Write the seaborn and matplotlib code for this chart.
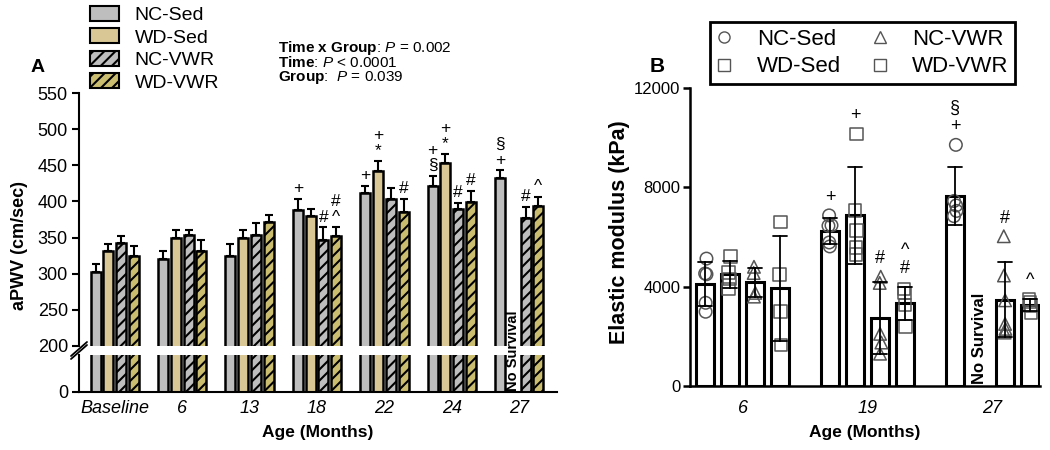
import matplotlib
matplotlib.use("Agg")
import matplotlib.pyplot as plt
import numpy as np
import pandas as pd
import seaborn as sns
from matplotlib.lines import Line2D
from matplotlib.patches import Patch

sns.set_theme(style="ticks")
plt.rcParams["font.family"] = ["Liberation Sans", "DejaVu Sans"]
plt.rcParams["mathtext.fontset"] = "custom"
plt.rcParams["mathtext.rm"] = "Liberation Sans"
plt.rcParams["mathtext.it"] = "Liberation Sans:italic"
plt.rcParams["mathtext.bf"] = "Liberation Sans:bold"
plt.rcParams["hatch.linewidth"] = 1.5
plt.rcParams["hatch.color"] = "black"
for key in ("text.color", "axes.labelcolor", "xtick.color", "ytick.color", "axes.edgecolor"):
    plt.rcParams[key] = "black"

# ── data ─────────────────────────────────────────────────────────────────────
GROUPS = ["NC-Sed", "WD-Sed", "NC-VWR", "WD-VWR"]

# panel A: aPWV mean and SEM per age
AGES_A = ["Baseline", "6", "13", "18", "22", "24", "27"]
PWV_NC_SED = [303, 320, 325, 388, 412, 421, 433]
PWV_WD_SED = [332, 349, 349, 380, 442, 453, np.nan]
PWV_NC_VWR = [342, 353, 353, 346, 404, 390, 377]
PWV_WD_VWR = [325, 332, 371, 352, 386, 399, 394]
SEM_NC_SED = [11, 12, 16, 16, 10, 14, 10]
SEM_WD_SED = [9, 12, 11, 10, 14, 13, np.nan]
SEM_NC_VWR = [10, 8, 17, 18, 14, 8, 15]
SEM_WD_VWR = [13, 14, 10, 12, 17, 16, 12]

# significance symbols, listed bottom to top
MARKS_A = [
    ("18", "NC-Sed", "+"), ("18", "NC-VWR", "#"), ("18", "WD-VWR", "^#"),
    ("22", "NC-Sed", "+"), ("22", "WD-Sed", "*+"), ("22", "WD-VWR", "#"),
    ("24", "NC-Sed", "§+"), ("24", "WD-Sed", "*+"), ("24", "NC-VWR", "#"),
    ("24", "WD-VWR", "#"), ("27", "NC-Sed", "+§"), ("27", "NC-VWR", "#"),
    ("27", "WD-VWR", "^"),
]

# panel B: elastic modulus, individual animals per age
AGES_B = ["6", "19", "27"]
EM_NC_SED = [[5130, 4530, 4500, 3350, 2990], [6870, 6470, 6450, 5780, 5620], [9710, 7450, 7270, 7050, 6840]]
EM_WD_SED = [[5210, 4570, 4300, 3900], [10140, 7070, 6260, 5580, 5290], []]
EM_NC_VWR = [[4800, 4550, 3750, 3600], [4400, 4150, 2100, 1750, 1300], [6030, 4450, 3450, 2500, 2300, 2150]]
EM_WD_VWR = [[6600, 4500, 3000, 1650], [3900, 3750, 3270, 2400], [3480, 3380, 3250, 2950]]

MARKS_B = [
    ("19", "NC-Sed", "+"), ("19", "WD-Sed", "+"), ("19", "NC-VWR", "#"),
    ("19", "WD-VWR", "#^"), ("27", "NC-Sed", "+§"), ("27", "NC-VWR", "#"),
    ("27", "WD-VWR", "^"),
]

FILL_A = {"NC-Sed": "#BEBEBE", "WD-Sed": "#D9C896", "NC-VWR": "#BEBEBE", "WD-VWR": "#CBBD70"}
HATCH_A = {"NC-Sed": "", "WD-Sed": "", "NC-VWR": "///", "WD-VWR": "///"}
MARKER_B = {"NC-Sed": "o", "WD-Sed": "s", "NC-VWR": "^", "WD-VWR": "s"}

rows = []
for g, means, sems in zip(GROUPS, [PWV_NC_SED, PWV_WD_SED, PWV_NC_VWR, PWV_WD_VWR],
                          [SEM_NC_SED, SEM_WD_SED, SEM_NC_VWR, SEM_WD_VWR]):
    for age, m, s in zip(AGES_A, means, sems):
        if not np.isnan(m):
            rows.append({"age": age, "group": g, "pwv": m, "sem": s})
df_a = pd.DataFrame(rows)

rows = []
for g, per_age in zip(GROUPS, [EM_NC_SED, EM_WD_SED, EM_NC_VWR, EM_WD_VWR]):
    for age, vals in zip(AGES_B, per_age):
        for v in vals:
            rows.append({"age": age, "group": g, "kpa": v})
df_b = pd.DataFrame(rows)

# ── figure ───────────────────────────────────────────────────────────────────
fig = plt.figure(figsize=(10.5, 4.5), dpi=100)
W, H = 1050, 450
ax_top = fig.add_axes([79 / W, 1 - 346 / H, 478 / W, 253 / H])
ax_bot = fig.add_axes([79 / W, 1 - 392 / H, 478 / W, 37 / H])
ax_b = fig.add_axes([690 / W, 1 - 386 / H, 350 / W, 298 / H])

PITCH_A = 0.19
for ax in (ax_top, ax_bot):
    sns.barplot(data=df_a, x="age", y="pwv", hue="group", order=AGES_A, hue_order=GROUPS,
                palette=FILL_A, saturation=1, errorbar=None, width=0.76, gap=0.22,
                edgecolor="black", linewidth=1.8, legend=False, ax=ax)
    for cont, g in zip(ax.containers, GROUPS):
        for p in cont:
            p.set_hatch(HATCH_A[g])
    ax.set_xlim(-0.53, 6.56)
    ax.set_xlabel("")
    ax.set_ylabel("")
    for side in ("top", "right"):
        ax.spines[side].set_visible(False)
    ax.spines["left"].set_linewidth(1.5)
    ax.tick_params(axis="y", width=1.5, length=5, labelsize=13, pad=3)

ax_top.set_ylim(200, 550)
ax_top.set_yticks(range(200, 551, 50))
ax_top.spines["bottom"].set_visible(False)
ax_top.tick_params(axis="x", bottom=False, labelbottom=False)
ax_bot.set_ylim(0, 50)
ax_bot.set_yticks([0])
ax_bot.spines["bottom"].set_linewidth(1.5)
ax_bot.tick_params(axis="x", length=0, labelsize=13, pad=6)
for lbl in ax_bot.get_xticklabels():
    lbl.set_style("italic")

# error bars (upper only)
xs = df_a["age"].map(AGES_A.index) + (df_a["group"].map(GROUPS.index) - 1.5) * PITCH_A
ax_top.errorbar(xs, df_a["pwv"], yerr=[np.zeros(len(df_a)), df_a["sem"]], fmt="none",
                ecolor="black", elinewidth=1.5, capsize=3, capthick=1.5, zorder=5)

for age, g, syms in MARKS_A:
    r = df_a[(df_a["age"] == age) & (df_a["group"] == g)].iloc[0]
    x = AGES_A.index(age) + (GROUPS.index(g) - 1.5) * PITCH_A
    for k, s in enumerate(syms):
        ax_top.annotate(s, (x, r["pwv"] + r["sem"]), xytext=(0, 2 + 11 * k),
                        textcoords="offset points", ha="center", va="bottom",
                        fontsize=12.5, annotation_clip=False)

ax_bot.text(6 - 0.5 * PITCH_A, 2, "No Survival", rotation=90, ha="center", va="bottom",
            fontsize=10.5, fontweight="bold", clip_on=False, zorder=6)

# axis break marks
kw = dict(color="black", lw=1.3, clip_on=False)
dx = 8 / 478
ax_top.plot([-dx, dx], [-10 / 253, 4 / 253], transform=ax_top.transAxes, **kw)
ax_bot.plot([-dx, dx], [1 - 4 / 37, 1 + 10 / 37], transform=ax_bot.transAxes, **kw)

fig.text(20 / W, 1 - 245 / H, "aPWV (cm/sec)", rotation=90, ha="center", va="center",
         fontsize=13, fontweight="bold")
fig.text(318 / W, 1 - 433 / H, "Age (Months)", ha="center", va="center",
         fontsize=12.5, fontweight="bold")
fig.text(38 / W, 1 - 67 / H, "A", ha="center", va="center", fontsize=14, fontweight="bold")

handles_a = [Patch(facecolor=FILL_A[g], edgecolor="black", hatch=HATCH_A[g], linewidth=1.5)
             for g in GROUPS]
fig.legend(handles_a, GROUPS, loc="upper left", bbox_to_anchor=(86 / W, 1 - 2 / H),
           frameon=False, fontsize=14, handlelength=1.5, handleheight=0.8,
           handletextpad=0.8, labelspacing=0.22, borderaxespad=0, borderpad=0.2)

stats = [r"$\mathbf{Time\ x\ Group}$: $\mathit{P}$ = 0.002",
         r"$\mathbf{Time}$: $\mathit{P}$ < 0.0001",
         r"$\mathbf{Group}$:  $\mathit{P}$ = 0.039"]
for i, s in enumerate(stats):
    fig.text(278 / W, 1 - (48 + 14.5 * i) / H, s, ha="left", va="center", fontsize=11)

# ── panel B ──────────────────────────────────────────────────────────────────
PITCH_B = 0.2
sns.barplot(data=df_b, x="age", y="kpa", hue="group", order=AGES_B, hue_order=GROUPS,
            palette={g: "white" for g in GROUPS}, saturation=1, errorbar="sd",
            capsize=0.45, width=0.8, gap=0.27, edgecolor="black", linewidth=2.2,
            err_kws={"color": "black", "linewidth": 1.3}, legend=False, ax=ax_b)
np.random.seed(4)
for g in GROUPS:
    sns.stripplot(data=df_b[df_b["group"] == g], x="age", y="kpa", hue="group",
                  order=AGES_B, hue_order=GROUPS, palette={k: "white" for k in GROUPS},
                  dodge=True, jitter=0.05, marker=MARKER_B[g], size=9, legend=False, ax=ax_b)
for coll in ax_b.collections:
    coll.set_facecolor("none")
    coll.set_edgecolor("#555555")
    coll.set_linewidth(1.1)
    coll.set_zorder(4)
for line in ax_b.lines:
    line.set_zorder(5)

stats_b = df_b.groupby(["age", "group"])["kpa"].agg(["mean", "std", "max"])
for age, g, syms in MARKS_B:
    r = stats_b.loc[(age, g)]
    base = max(r["mean"] + r["std"], r["max"])
    x = AGES_B.index(age) + (GROUPS.index(g) - 1.5) * PITCH_B
    for k, s in enumerate(syms):
        ax_b.annotate(s, (x, base), xytext=(0, 7 + 13 * k), textcoords="offset points",
                      ha="center", va="bottom", fontsize=13, annotation_clip=False)

ax_b.text(2 - 0.5 * PITCH_B, 100, "No Survival", rotation=90, ha="center", va="bottom",
          fontsize=12, fontweight="bold", zorder=6)

ax_b.set_xlim(-0.42, 2.38)
ax_b.set_ylim(0, 12000)
ax_b.set_yticks([0, 4000, 8000, 12000])
ax_b.set_xlabel("Age (Months)", fontsize=12.5, fontweight="bold", labelpad=6)
ax_b.set_ylabel("")
for side in ("top", "right"):
    ax_b.spines[side].set_visible(False)
for side in ("left", "bottom"):
    ax_b.spines[side].set_linewidth(1.8)
ax_b.tick_params(axis="y", width=1.8, length=5, labelsize=12, pad=2)
ax_b.tick_params(axis="x", length=0, labelsize=13, pad=10)
for lbl in ax_b.get_xticklabels():
    lbl.set_style("italic")

fig.text(620 / W, 1 - 232 / H, "Elastic modulus (kPa)", rotation=90, ha="center",
         va="center", fontsize=15.5, fontweight="bold")
fig.text(657 / W, 1 - 67 / H, "B", ha="center", va="center", fontsize=15, fontweight="bold")

handles_b = [Line2D([], [], marker=MARKER_B[g], linestyle="none", markerfacecolor="none",
                    markeredgecolor="#555555", markersize=8, markeredgewidth=1.0)
             for g in GROUPS]
leg = fig.legend(handles_b, GROUPS, loc="upper left", bbox_to_anchor=(710 / W, 1 - 22 / H),
                 ncol=2, frameon=True, fancybox=False, edgecolor="black", framealpha=1,
                 fontsize=16, handlelength=0.7, handletextpad=1.1, columnspacing=1.4,
                 labelspacing=0.3, borderpad=0.3, borderaxespad=0)
leg.get_frame().set_linewidth(2)

fig.savefig("out.png", dpi=100)
